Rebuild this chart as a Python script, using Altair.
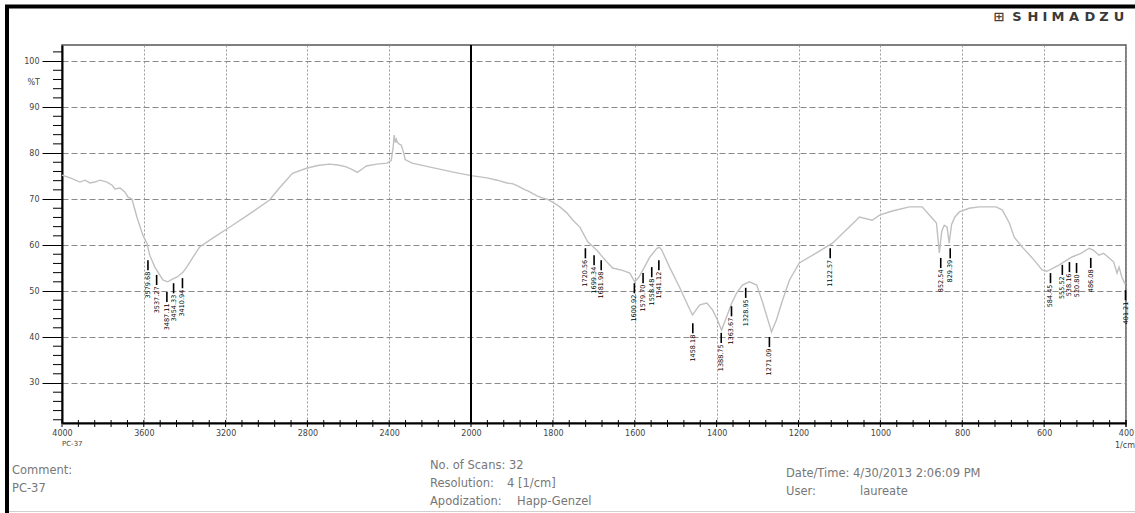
import altair as alt
import pandas as pd

# ---- FTIR trace of sample PC-37: wavenumber (1/cm) vs transmittance (%T) ----
wavenumber = [
    4000, 3960, 3912, 3888, 3863, 3839, 3814, 3780, 3755, 3741, 3716, 3692, 3677, 3658,
    3633, 3605, 3585, 3571, 3546, 3507, 3483, 3460, 3439, 3410, 3390, 3360, 3327, 3263,
    3166, 3068, 2985, 2937, 2873, 2805, 2750, 2693, 2650, 2610, 2575, 2556, 2530, 2512,
    2460, 2410, 2390, 2380, 2376, 2370, 2365, 2361, 2352, 2341, 2330, 2322, 2288, 2205,
    2093, 2000,
    1961, 1936, 1912, 1897, 1880, 1868, 1861, 1849, 1836, 1824, 1814, 1800, 1783, 1766,
    1751, 1734, 1715, 1693, 1670, 1654, 1630, 1612, 1600, 1590, 1580, 1563, 1546, 1540,
    1534, 1515, 1490, 1471, 1459, 1441, 1424, 1410, 1398, 1388, 1376, 1363, 1351, 1337,
    1320, 1302, 1288, 1276, 1266, 1254, 1239, 1222, 1198, 1156, 1117, 1083, 1051, 1020,
    1002, 971, 929, 898, 876, 863, 856, 850, 844, 837, 832, 826, 818, 807, 783, 759, 717,
    702, 685, 673, 654, 629, 605, 593, 563, 532, 510, 490, 480, 466, 455, 441, 430, 422,
    417, 410, 402,
]
transmittance = [
    75.2, 74.6, 73.7, 74.1, 73.5, 73.7, 74.1, 73.7, 73.0, 72.2, 72.4, 71.5, 70.4, 70.0,
    66.0, 62.2, 60.4, 57.8, 55.2, 52.4, 52.0, 52.6, 53.0, 54.0, 55.2, 57.3, 59.6, 61.5,
    64.3, 67.2, 69.8, 72.4, 75.6, 76.7, 77.3, 77.6, 77.4, 77.0, 76.3, 75.8, 76.6, 77.2,
    77.6, 77.8, 78.4, 81.5, 83.9, 82.3, 83.0, 82.4, 82.0, 81.7, 80.2, 78.6, 77.8, 77.0,
    75.9, 75.1,
    74.6, 74.1, 73.5, 73.3, 72.6, 72.0, 71.8, 71.2, 70.6, 70.2, 70.0, 69.3, 68.3, 67.0,
    65.4, 63.9, 60.7, 58.9, 56.5, 55.0, 54.5, 53.9, 52.0, 53.0, 54.6, 57.4, 59.3, 59.5,
    58.9, 55.2, 50.7, 47.0, 44.8, 47.0, 47.4, 45.9, 43.7, 41.5, 44.3, 47.4, 49.6, 51.3,
    52.0, 51.3, 47.6, 44.1, 41.1, 43.7, 48.0, 52.4, 56.1, 58.3, 60.4, 63.3, 66.1, 65.4,
    66.5, 67.4, 68.3, 68.3, 66.1, 64.8, 58.3, 63.0, 64.3, 63.9, 60.4, 64.5, 66.1, 67.2,
    68.0, 68.3, 68.3, 67.6, 64.8, 61.7, 59.6, 57.2, 54.6, 54.3, 55.7, 57.4, 58.2, 59.3,
    58.9, 57.8, 58.2, 57.2, 56.3, 53.9, 55.2, 53.0, 51.5,
]

# peak picks: wavenumber and the %T level where each marker starts
peak_wavenumber = [
    3579.68, 3537.27, 3487.11, 3454.33, 3410.94, 1720.56, 1699.34, 1681.98, 1600.92,
    1579.70, 1558.48, 1541.12, 1458.18, 1388.75, 1363.67, 1328.95, 1271.09, 1122.57,
    852.54, 829.39, 584.45, 555.52, 538.16, 520.80, 486.08, 401.21,
]
peak_level = [
    56.7, 53.5, 49.8, 51.7, 52.8, 59.3, 57.8, 56.7, 51.7, 53.9, 55.2, 56.7, 43.0, 40.9,
    46.7, 50.7, 40.0, 59.3, 57.2, 59.3, 53.9, 55.7, 56.3, 56.1, 57.2, 50.2,
]

major_x = [4000, 3600, 3200, 2800, 2400, 2000, 1800, 1600, 1400, 1200, 1000, 800, 600, 400]
minor_x = list(range(4000, 2000, -80)) + list(range(2000, 399, -40))
major_y = [30, 40, 50, 60, 70, 80, 90, 100]
minor_y = [v for v in range(22, 104, 2) if v % 10]

# ---- geometry ----
W, H = 1064, 378          # plot area
OX, OY = 62, 45           # plot origin inside the page

spec = pd.DataFrame({"wn": wavenumber, "pct": transmittance})
peaks = pd.DataFrame({"wn": peak_wavenumber, "pct": peak_level})
peaks["lbl"] = [f"{v:.2f}" for v in peak_wavenumber]
peaks["pct_end"] = peaks["pct"] - 2.2
one = pd.DataFrame({"k": [0]})

# 4000-2000 and 2000-400 are drawn at different scales (the 2000 break)
xscale = alt.Scale(domain=[4000, 2000, 400], range=[0, 409, W], nice=False, zero=False)
yscale = alt.Scale(domain=[21.3, 103.5], nice=False, zero=False)

xaxis = alt.Axis(
    values=major_x, title=None, ticks=False, labelPadding=6, format="d",
    labelFont="DejaVu Sans", labelFontSize=8, labelColor="#444",
    labelFlush=False, labelOverlap=False,
    domainColor="black", domainWidth=2,
    grid=True, gridColor="#9a9a9a", gridDash=[2, 2], gridWidth=1,
)
yaxis = alt.Axis(
    values=major_y, title=None, tickSize=20, tickColor="black", tickWidth=1,
    labelPadding=3, labelFont="DejaVu Sans", labelFontSize=8, labelColor="#444",
    domainColor="black", domainWidth=2, format="d",
    grid=True, gridColor="#8a8a8a", gridDash=[6, 3], gridWidth=1,
)
X = alt.X("wn:Q", scale=xscale, axis=xaxis)
Y = alt.Y("pct:Q", scale=yscale, axis=yaxis)

trace = alt.Chart(spec).mark_line(color="#c0c0c0", strokeWidth=1.4).encode(x=X, y=Y)

break_line = alt.Chart(pd.DataFrame({"wn": [2000]})).mark_rule(
    color="black", strokeWidth=2
).encode(x=X, y=alt.value(0), y2=alt.value(H))

x_ticks = alt.Chart(pd.DataFrame({"wn": minor_x + [400]})).mark_rule(
    color="black", strokeWidth=1
).encode(x=X, y=alt.value(H - 3), y2=alt.value(H + 4))

y_ticks = alt.Chart(pd.DataFrame({"pct": minor_y})).mark_rule(
    color="black", strokeWidth=1
).encode(y=Y, x=alt.value(-9), x2=alt.value(0))

peak_bars = alt.Chart(peaks).mark_rule(color="black", strokeWidth=1.6).encode(
    x=X, y=Y, y2="pct_end:Q"
)
peak_text = alt.Chart(peaks).transform_calculate(
    pct="datum.pct - 2.5"
).mark_text(
    angle=270, align="right", baseline="middle", fontSize=6.5,
    font="DejaVu Sans", color="black",
).encode(x=X, y=Y, text="lbl:N")


def note(txt, ax, ay, size=11.5, color="#777", align="left", weight="normal",
         font="DejaVu Sans"):
    """Free text placed at page coordinates (ax, ay)."""
    return alt.Chart(one).mark_text(
        text=txt, align=align, baseline="middle", fontSize=size,
        fontWeight=weight, font=font, color=color,
    ).encode(x=alt.value(ax - OX), y=alt.value(ay - OY))


frame = alt.Chart(one).mark_rect(
    fill="transparent", stroke="black", strokeWidth=4
).encode(
    x=alt.value(7 - OX), x2=alt.value(1170 - OX),
    y=alt.value(6.5 - OY), y2=alt.value(560 - OY),
)
footer_rule = alt.Chart(one).mark_rule(color="#d0d0d0", strokeWidth=1).encode(
    x=alt.value(9 - OX), x2=alt.value(1135 - OX), y=alt.value(511.5 - OY)
)

notes = [
    note("%T", 40, 83, size=8, color="#444", align="right"),
    note("PC-37", 62, 444, size=7, color="#444"),
    note("1/cm", 1125, 446, size=8, color="#444", align="center"),
    note("Comment:", 12, 471),
    note("PC-37", 12, 489),
    note("No. of Scans: 32", 430, 466),
    note("Resolution:", 430, 484),
    note("4 [1/cm]", 507, 484),
    note("Apodization:", 430, 502),
    note("Happ-Genzel", 517, 502),
    note("Date/Time: 4/30/2013 2:06:09 PM", 786, 474),
    note("User:", 786, 492),
    note("laureate", 860, 492),
    note("\u229e", 999, 17, size=13, color="#444", align="center", weight="bold"),
]
# widely spaced logo lettering
logo_letters = list("SHIMADZU")
logo_centers = [1017, 1033, 1045, 1058, 1074, 1090, 1104, 1119]
notes += [
    note(ch, cx, 17, size=13, color="#3a3a3a", align="center", weight="bold")
    for ch, cx in zip(logo_letters, logo_centers)
]

chart = alt.layer(
    trace, break_line, x_ticks, y_ticks, peak_bars, peak_text, frame, footer_rule, *notes
).properties(
    width=W, height=H,
    padding={"left": OX, "top": OY, "right": 1135 - OX - W, "bottom": 513 - OY - H},
    autosize=alt.AutoSizeParams(type="none"),
    background="white",
).configure_view(stroke="#555", strokeWidth=1.5)

chart.save("out.html", embed_options={"renderer": "svg", "actions": False})
